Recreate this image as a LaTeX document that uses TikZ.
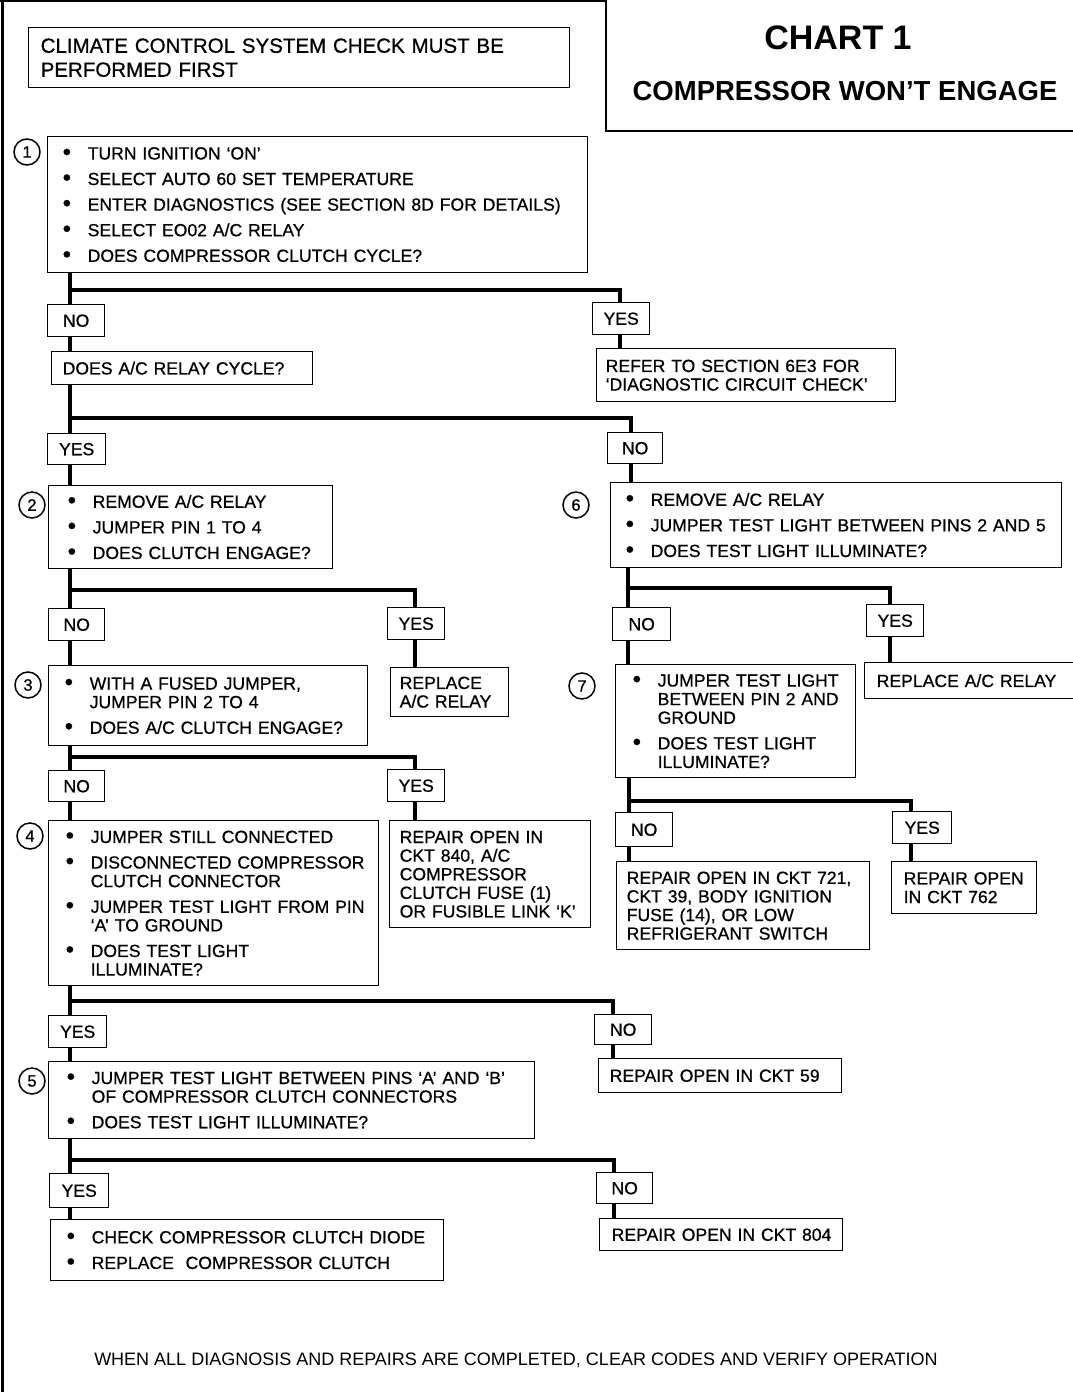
\documentclass[tikz,border=0pt]{standalone}
\usepackage{fontspec}
\setmainfont{Liberation Sans}
\newfontfamily\heavy[FakeBold=0.7]{Liberation Sans}
\usetikzlibrary{backgrounds}
\newcommand{\dotb}{\raisebox{-0.4pt}{\scalebox{1.35}{\textbullet}}}
\newcommand{\bl}[1]{\mbox{\makebox[25pt][l]{\dotb}#1}}
\newcommand{\ind}[1]{\mbox{\hspace*{25pt}#1}}
\newcommand{\ml}[1]{\mbox{#1}}
\newcommand{\fb}{\heavy\fontsize{17.6}{18.6}\selectfont}
\begin{document}
\begin{tikzpicture}[x=1pt,y=-1pt,
  bx/.style={draw, line width=1.4pt, anchor=north west, align=left, inner ysep=0pt, font=\fb},
  lab/.style={draw, line width=1.4pt, fill=white, anchor=north west, inner sep=0pt, font=\fb},
  circ/.style={circle, draw, line width=1.5pt, minimum size=26pt, inner sep=0pt, font=\heavy\fontsize{16.5}{16.5}\selectfont},
  conn/.style={line width=3.6pt}]
\useasboundingbox (0,0) rectangle (1072,1392);
% page frame
\draw[line width=3pt] (2.5,0) -- (2.5,1392);
\draw[line width=2pt] (0,1) -- (605,1);
% title
\node[draw, line width=1.5pt, anchor=north west, minimum width=480pt, minimum height=132pt, inner sep=0pt] (tbox) at (605,-2) {};
\node[font=\fontsize{34}{34}\bfseries] (tchart) at (838,38) {CHART 1};
\node[font=\fontsize{27.5}{28}\bfseries] (tsub) at (845,91) {COMPRESSOR WON’T ENGAGE};
% top note
\node[bx, font=\heavy\fontsize{20.5}{24}\selectfont, minimum width=541pt, minimum height=60pt, inner xsep=12pt, text width=517pt] (clim) at (28,27) {\ml{CLIMATE CONTROL SYSTEM CHECK MUST BE}\\\ml{PERFORMED FIRST}};
% step 1
\node[circ] (c1) at (27,152) {1};
\node[bx, minimum width=540pt, minimum height=136pt, inner xsep=15pt, text width=510pt] (b1) at (47,136)
 {\bl{TURN IGNITION ‘ON’}\\[7pt]\bl{SELECT AUTO 60 SET TEMPERATURE}\\[7pt]\bl{ENTER DIAGNOSTICS (SEE SECTION 8D FOR DETAILS)}\\[7pt]\bl{SELECT EO02 A/C RELAY}\\[7pt]\bl{DOES COMPRESSOR CLUTCH CYCLE?}};
\node[lab, minimum width=57pt, minimum height=32pt] (lno1) at (47,304) {NO};
\node[lab, minimum width=57pt, minimum height=32pt] (lyes1) at (592,302) {YES};
\node[bx, minimum width=261pt, minimum height=33pt, inner xsep=11pt, text width=239pt] (rel) at (51,351) {\ml{DOES A/C RELAY CYCLE?}};
\node[bx, minimum width=299pt, minimum height=53pt, inner xsep=9pt, text width=281pt] (ref) at (596,348) {\ml{REFER TO SECTION 6E3 FOR}\\\ml{‘DIAGNOSTIC CIRCUIT CHECK’}};
\node[lab, minimum width=58pt, minimum height=31pt] (lyes2) at (47,433) {YES};
\node[lab, minimum width=55pt, minimum height=31pt] (lno2) at (607,432) {NO};
% step 2
\node[circ] (c2) at (32,505) {2};
\node[bx, minimum width=284pt, minimum height=83pt, inner xsep=19pt, text width=246pt] (b2) at (48,485)
 {\bl{REMOVE A/C RELAY}\\[7pt]\bl{JUMPER PIN 1 TO 4}\\[7pt]\bl{DOES CLUTCH ENGAGE?}};
\node[lab, minimum width=56pt, minimum height=32pt] (lno3) at (48,608) {NO};
\node[lab, minimum width=57pt, minimum height=32pt] (lyes3) at (387,607) {YES};
% step 3
\node[circ] (c3) at (28,685) {3};
\node[bx, minimum width=319pt, minimum height=80pt, inner xsep=16pt, text width=287pt] (b3) at (48,665)
 {\bl{WITH A FUSED JUMPER,}\\\ind{JUMPER PIN 2 TO 4}\\[7pt]\bl{DOES A/C CLUTCH ENGAGE?}};
\node[bx, minimum width=118pt, minimum height=49pt, inner xsep=9pt, text width=100pt] (rep1) at (390,667) {\ml{REPLACE}\\\ml{A/C RELAY}};
\node[lab, minimum width=56pt, minimum height=31pt] (lno4) at (48,770) {NO};
\node[lab, minimum width=57pt, minimum height=32pt] (lyes4) at (387,769) {YES};
% step 4
\node[circ] (c4) at (30,836) {4};
\node[bx, minimum width=330pt, minimum height=165pt, inner xsep=17pt, text width=296pt] (b4) at (48,820)
 {\bl{JUMPER STILL CONNECTED}\\[7pt]\bl{DISCONNECTED COMPRESSOR}\\\ind{CLUTCH CONNECTOR}\\[7pt]\bl{JUMPER TEST LIGHT FROM PIN}\\\ind{‘A’ TO GROUND}\\[7pt]\bl{DOES TEST LIGHT}\\\ind{ILLUMINATE?}};
\node[bx, minimum width=201pt, minimum height=107pt, inner xsep=10pt, text width=181pt] (rep840) at (389,820)
 {\ml{REPAIR OPEN IN}\\\ml{CKT 840, A/C}\\\ml{COMPRESSOR}\\\ml{CLUTCH FUSE (1)}\\\ml{OR FUSIBLE LINK ‘K’}};
\node[lab, minimum width=58pt, minimum height=32pt] (lyes5) at (48,1015) {YES};
\node[lab, minimum width=57pt, minimum height=30pt] (lno5) at (594,1014) {NO};
% step 5
\node[circ] (c5) at (32,1081) {5};
\node[bx, minimum width=486pt, minimum height=77pt, inner xsep=18pt, text width=450pt] (b5) at (48,1061)
 {\bl{JUMPER TEST LIGHT BETWEEN PINS ‘A’ AND ‘B’}\\\ind{OF COMPRESSOR CLUTCH CONNECTORS}\\[7pt]\bl{DOES TEST LIGHT ILLUMINATE?}};
\node[bx, minimum width=243pt, minimum height=34pt, inner xsep=11pt, text width=221pt] (rep59) at (598,1058) {\ml{REPAIR OPEN IN CKT 59}};
\node[lab, minimum width=59pt, minimum height=34pt] (lyes6) at (49,1173) {YES};
\node[lab, minimum width=56pt, minimum height=31pt] (lno6) at (596,1172) {NO};
\node[bx, minimum width=393pt, minimum height=61pt, inner xsep=16pt, text width=361pt] (bf) at (50,1219)
 {\bl{CHECK COMPRESSOR CLUTCH DIODE}\\[7pt]\bl{REPLACE\ \ COMPRESSOR CLUTCH}};
\node[bx, minimum width=243pt, minimum height=32pt, inner xsep=12pt, text width=219pt] (rep804) at (599,1218) {\ml{REPAIR OPEN IN CKT 804}};
% step 6
\node[circ] (c6) at (576,505) {6};
\node[bx, minimum width=451pt, minimum height=85pt, inner xsep=15pt, text width=421pt] (b6) at (610,482)
 {\bl{REMOVE A/C RELAY}\\[7pt]\bl{JUMPER TEST LIGHT BETWEEN PINS 2 AND 5}\\[7pt]\bl{DOES TEST LIGHT ILLUMINATE?}};
\node[lab, minimum width=58pt, minimum height=33pt] (lno7) at (612,607) {NO};
\node[lab, minimum width=57pt, minimum height=32pt] (lyes7) at (866,604) {YES};
% step 7
\node[circ] (c7) at (582,686) {7};
\node[bx, minimum width=240pt, minimum height=113pt, inner xsep=17pt, text width=206pt] (b7) at (615,664)
 {\bl{JUMPER TEST LIGHT}\\\ind{BETWEEN PIN 2 AND}\\\ind{GROUND}\\[7pt]\bl{DOES TEST LIGHT}\\\ind{ILLUMINATE?}};
\node[bx, minimum width=215pt, minimum height=36pt, inner xsep=12pt, text width=191pt] (repR) at (864,662) {\ml{REPLACE A/C RELAY}};
\node[lab, minimum width=57pt, minimum height=34pt] (lno8) at (615,812) {NO};
\node[lab, minimum width=59pt, minimum height=32pt] (lyes8) at (892,811) {YES};
\node[bx, minimum width=253pt, minimum height=88pt, inner xsep=10pt, text width=233pt] (rep721) at (616,861)
 {\ml{REPAIR OPEN IN CKT 721,}\\\ml{CKT 39, BODY IGNITION}\\\ml{FUSE (14), OR LOW}\\\ml{REFRIGERANT SWITCH}};
\node[bx, minimum width=145pt, minimum height=52pt, inner xsep=12pt, text width=121pt] (rep762) at (891,861) {\ml{REPAIR OPEN}\\\ml{IN CKT 762}};
% footer
\node[font=\fontsize{18}{18}\selectfont] (foot) at (516,1360) {WHEN ALL DIAGNOSIS AND REPAIRS ARE COMPLETED, CLEAR CODES AND VERIFY OPERATION};
% junctions
\coordinate (j1) at (70,290); \coordinate (j1r) at (620,290);
\coordinate (j2) at (70,418); \coordinate (j2r) at (631,418);
\coordinate (j3) at (70,590); \coordinate (j3r) at (415,590);
\coordinate (j4) at (70,757); \coordinate (j4r) at (415,757);
\coordinate (j5) at (70,1001); \coordinate (j5r) at (613,1001);
\coordinate (j6) at (70,1160); \coordinate (j6r) at (614,1160);
\coordinate (k1) at (628,588); \coordinate (k1r) at (890,588);
\coordinate (k2) at (629,801); \coordinate (k2r) at (911,801);
\begin{pgfonlayer}{background}
\draw[conn] (b1.south -| j1) -- (rel.north -| j1);
\draw[conn] (j1) -- (j1r) -- (ref.north -| j1r);
\draw[conn] (rel.south -| j2) -- (b2.north -| j2);
\draw[conn] (j2) -- (j2r) -- (b6.north -| j2r);
\draw[conn] (b2.south -| j3) -- (b3.north -| j3);
\draw[conn] (j3) -- (j3r) -- (rep1.north -| j3r);
\draw[conn] (b3.south -| j4) -- (b4.north -| j4);
\draw[conn] (j4) -- (j4r) -- (rep840.north -| j4r);
\draw[conn] (b4.south -| j5) -- (b5.north -| j5);
\draw[conn] (j5) -- (j5r) -- (rep59.north -| j5r);
\draw[conn] (b5.south -| j6) -- (bf.north -| j6);
\draw[conn] (j6) -- (j6r) -- (rep804.north -| j6r);
\draw[conn] (b6.south -| k1) -- (b7.north -| k1);
\draw[conn] (k1) -- (k1r) -- (repR.north -| k1r);
\draw[conn] (b7.south -| k2) -- (rep721.north -| k2);
\draw[conn] (k2) -- (k2r) -- (rep762.north -| k2r);
\end{pgfonlayer}
\end{tikzpicture}
\end{document}
